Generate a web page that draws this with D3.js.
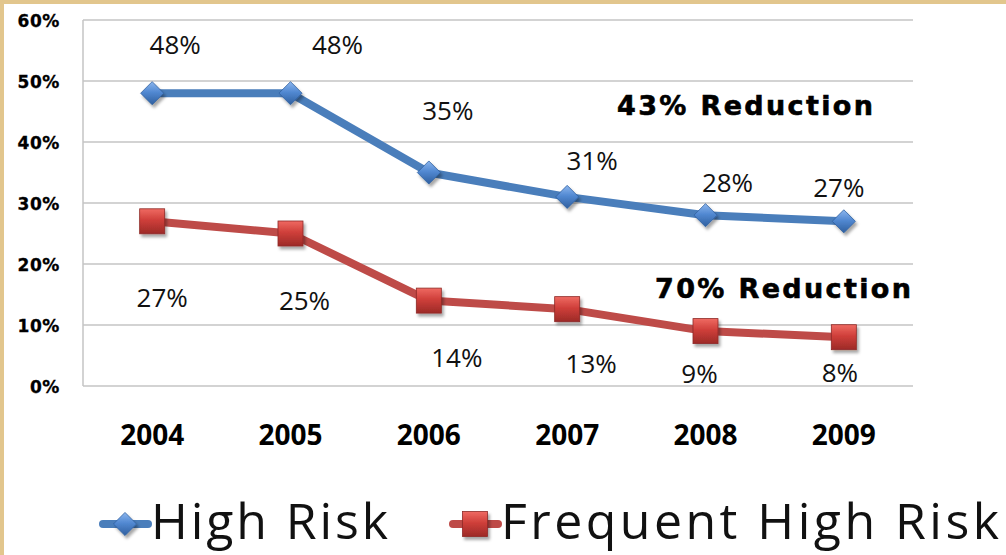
<!DOCTYPE html>
<html>
<head>
<meta charset="utf-8">
<script src="https://cdn.jsdelivr.net/npm/d3@7"></script>
<style>
  html, body { margin: 0; padding: 0; background: #fff; }
  svg { display: block; }
</style>
</head>
<body>
<div id="chart"></div>
<script>
const years = ['2004', '2005', '2006', '2007', '2008', '2009']
const highRisk = [48, 48, 35, 31, 28, 27]
const frequentHighRisk = [27, 25, 14, 12.6, 9, 8]
const yTicks = [0, 10, 20, 30, 40, 50, 60]
const seriesNames = ['High Risk', 'Frequent High Risk']
const reductionNotes = ['43% Reduction', '70% Reduction']

// label offsets from each point (excel placed them by hand)
const highLabelDx = [23, 47, 19, 25, 22, -5]
const highLabelDy = [-39, -39, -53, -27, -23, -24]
const freqLabelDx = [10, 14, 28, 24, -6, -4]
const freqLabelDy = [86, 76, 66, 64, 52, 45]

const W = 1006
const H = 555
const margin = { top: 20, right: 93, bottom: 169, left: 83 }

const BLUE = '#4a7ebb'
const RED = '#be4b48'
const GRID = '#c4c4c4'

const svg = d3.select('#chart').append('svg')
  .attr('width', W)
  .attr('height', H)

// parchment edges
svg.append('rect').attr('x', 0).attr('y', 0).attr('width', W).attr('height', 4).attr('fill', '#e2c68d')
svg.append('rect').attr('x', 0).attr('y', 0).attr('width', 4).attr('height', H).attr('fill', '#e2c68d')

const defs = svg.append('defs')

const shadow = defs.append('filter').attr('id', 'shadow')
  .attr('x', '-50%').attr('y', '-50%').attr('width', '200%').attr('height', '200%')
shadow.append('feDropShadow')
  .attr('dx', 2).attr('dy', 3).attr('stdDeviation', 1.6)
  .attr('flood-color', '#000').attr('flood-opacity', 0.35)

const gradient = (id, stops) => {
  const g = defs.append('linearGradient').attr('id', id)
    .attr('x1', 0).attr('y1', 0).attr('x2', 0).attr('y2', 1)
  stops.forEach(([o, c]) => g.append('stop').attr('offset', o).attr('stop-color', c))
}
gradient('blueGrad', [[0, '#8cb6ee'], [0.45, '#5289d2'], [1, '#2f5f9f']])
gradient('redGrad', [[0, '#ef6a62'], [0.45, '#cf3f3a'], [1, '#9c2a27']])

const x = d3.scalePoint()
  .domain(years)
  .range([margin.left, W - margin.right])
  .padding(0.5)

const y = d3.scaleLinear()
  .domain([0, 60])
  .range([H - margin.bottom, margin.top])

// gridlines
svg.append('g')
  .selectAll('line')
  .data(yTicks)
  .join('line')
  .attr('x1', margin.left)
  .attr('x2', W - margin.right)
  .attr('y1', d => y(d))
  .attr('y2', d => y(d))
  .attr('stroke', GRID)
  .attr('stroke-width', 1.5)

svg.append('line')
  .attr('x1', margin.left).attr('x2', margin.left)
  .attr('y1', y(60)).attr('y2', y(0))
  .attr('stroke', GRID).attr('stroke-width', 1.5)

// y axis labels
svg.append('g')
  .selectAll('text')
  .data(yTicks)
  .join('text')
  .attr('x', 60)
  .attr('y', d => y(d) + 7)
  .attr('text-anchor', 'end')
  .style('font-family', 'DejaVu Sans')
  .style('font-weight', 'bold')
  .style('font-size', '17px')
  .style('letter-spacing', '0.6px')
  .attr('stroke', '#000').attr('stroke-width', 0.3)
  .text(d => d + '%')

// x axis labels
svg.append('g')
  .selectAll('text')
  .data(years)
  .join('text')
  .attr('x', d => x(d))
  .attr('y', 445)
  .attr('text-anchor', 'middle')
  .style('font-family', 'Open Sans')
  .style('font-weight', 'bold')
  .style('font-size', '28px')
  .text(d => d)

const diamond = d3.symbol().type(d3.symbolDiamond2).size(340)
const square = (sel, s) => sel
  .attr('x', -s / 2).attr('y', -s / 2)
  .attr('width', s).attr('height', s)
  .attr('fill', 'url(#redGrad)')
  .attr('stroke', '#8e2a27').attr('stroke-width', 0.8)

const line = d3.line()
  .x((d, i) => x(years[i]))
  .y(d => y(d))

const drawSeries = (values, color, markerFn, dxs, dys) => {
  const g = svg.append('g')
  g.append('path')
    .datum(values)
    .attr('d', line)
    .attr('fill', 'none')
    .attr('stroke', color)
    .attr('stroke-width', 8)
    .attr('stroke-linejoin', 'round')

  const pts = g.selectAll('g.pt')
    .data(values)
    .join('g')
    .attr('class', 'pt')
    .attr('transform', (d, i) => `translate(${x(years[i])},${y(d)})`)
    .attr('filter', 'url(#shadow)')
  markerFn(pts)

  g.selectAll('text.lbl')
    .data(values)
    .join('text')
    .attr('class', 'lbl')
    .attr('x', (d, i) => x(years[i]) + dxs[i])
    .attr('y', (d, i) => y(d) + dys[i])
    .attr('text-anchor', 'middle')
    .style('font-family', 'Open Sans')
    .style('font-size', '26px')
    .attr('fill', '#111')
    .text(d => Math.round(d) + '%')
}

drawSeries(highRisk, BLUE, sel => sel.append('path')
  .attr('d', diamond)
  .attr('fill', 'url(#blueGrad)')
  .attr('stroke', '#2f5f9f').attr('stroke-width', 0.8), highLabelDx, highLabelDy)

drawSeries(frequentHighRisk, RED, sel => square(sel.append('rect'), 25), freqLabelDx, freqLabelDy)

// reduction notes
const noteStyle = sel => sel
  .style('font-family', 'DejaVu Sans')
  .style('font-weight', 'bold')
  .style('font-size', '27px')
  .attr('stroke', '#000').attr('stroke-width', 0.6)
  .attr('textLength', 256)
  .attr('lengthAdjust', 'spacing')

svg.append('text').attr('x', 617).attr('y', 115).text(reductionNotes[0]).call(noteStyle)
svg.append('text').attr('x', 655).attr('y', 298).text(reductionNotes[1]).call(noteStyle)

// legend
const legend = svg.append('g')
const legendItems = [
  { name: seriesNames[0], color: BLUE, x: 103, marker: 'diamond', width: 237 },
  { name: seriesNames[1], color: RED, x: 453, marker: 'square', width: 498 }
]
legendItems.forEach(item => {
  const g = legend.append('g').attr('transform', `translate(${item.x},524)`)
  g.append('line')
    .attr('x1', 0).attr('x2', 45)
    .attr('stroke', item.color).attr('stroke-width', 8).attr('stroke-linecap', 'round')
  const m = g.append('g').attr('transform', 'translate(22,0)').attr('filter', 'url(#shadow)')
  if (item.marker === 'diamond') {
    m.append('path').attr('d', diamond)
      .attr('fill', 'url(#blueGrad)')
      .attr('stroke', '#2f5f9f').attr('stroke-width', 0.8)
  } else {
    square(m.append('rect'), 25)
  }
  g.append('text')
    .attr('x', 48)
    .attr('y', 15)
    .style('font-family', 'Open Sans')
    .style('font-size', '50px')
    .attr('textLength', item.width)
    .attr('lengthAdjust', 'spacing')
    .attr('fill', '#111')
    .text(item.name)
})
</script>
</body>
</html>
